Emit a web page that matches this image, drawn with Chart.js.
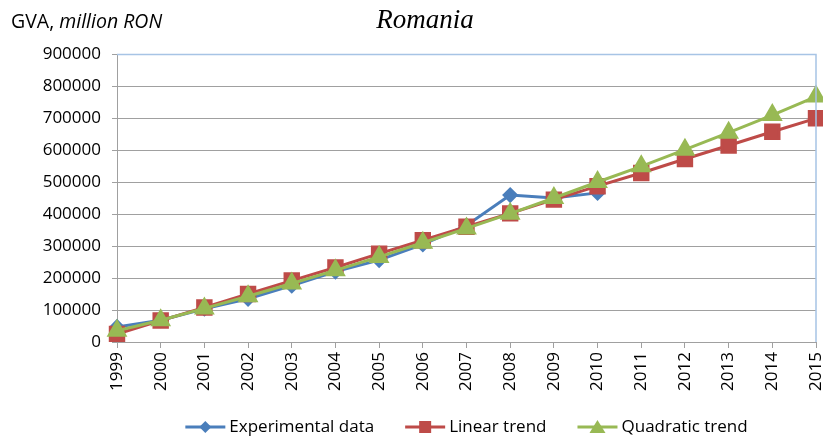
<!DOCTYPE html>
<html>
<head>
<meta charset="utf-8">
<script src="https://cdn.jsdelivr.net/npm/chart.js@4"></script>
<style>
  body { margin: 0; background: #fff; }
  #wrap { width: 823px; height: 437px; }
</style>
</head>
<body>
<div id="wrap"><canvas id="myChart"></canvas></div>
<script>
const years = ["1999", "2000", "2001", "2002", "2003", "2004", "2005", "2006", "2007", "2008", "2009", "2010", "2011", "2012", "2013", "2014", "2015"];
const experimental = [47000, 68000, 104000, 135000, 176000, 220000, 256000, 305000, 364000, 459000, 450000, 466000];
const linearTrend = [25000, 67000, 108000, 150000, 192000, 233000, 276000, 318000, 360000, 402000, 445000, 487000, 528000, 572000, 614000, 657000, 699000];
const quadraticTrend = [35000, 68000, 105000, 143000, 183000, 224000, 266000, 310000, 355000, 401000, 450000, 500000, 549000, 601000, 654000, 709000, 767000];
const yTicks = [0, 100000, 200000, 300000, 400000, 500000, 600000, 700000, 800000, 900000];

const blue = "#4a7ebb";
const red = "#be4b48";
const green = "#98b954";

const drawMarker = (g, shape, x, y) => {
  g.beginPath();
  if (shape == "diamond") {
    g.moveTo(x, y - 6); g.lineTo(x + 6, y); g.lineTo(x, y + 6); g.lineTo(x - 6, y);
  } else if (shape == "square") {
    g.rect(x - 6, y - 6, 12, 12);
  } else {
    g.moveTo(x, y - 7); g.lineTo(x + 8, y + 6); g.lineTo(x - 8, y + 6);
  }
  g.closePath();
  g.fill();
};

// title, axis caption, plot border and legend
const extras = {
  id: "extras",
  afterDraw(chart) {
    const ctx = chart.ctx;
    const a = chart.chartArea;
    ctx.save();
    ctx.strokeStyle = "#a7c4e5";
    ctx.lineWidth = 1.5;
    ctx.beginPath();
    ctx.moveTo(a.left, a.top + 0.5);
    ctx.lineTo(a.right, a.top + 0.5);
    ctx.lineTo(a.right, a.bottom);
    ctx.stroke();

    ctx.fillStyle = "#000";
    ctx.textBaseline = "alphabetic";
    ctx.font = "italic 27px 'Liberation Serif'";
    ctx.textAlign = "center";
    ctx.fillText("Romania", 425, 28);
    ctx.textAlign = "left";
    ctx.font = "19.5px 'Open Sans'";
    ctx.fillText("GVA, ", 11, 28);
    const w = ctx.measureText("GVA, ").width;
    ctx.font = "italic 19.5px 'Open Sans'";
    ctx.fillText("million RON", 11 + w, 28);

    // legend
    ctx.font = "17px 'Open Sans'";
    ctx.textBaseline = "middle";
    const iconW = 40, textGap = 4, itemGap = 31;
    const items = chart.data.datasets.map(ds => ({ ds, tw: ctx.measureText(ds.label).width }));
    let total = 0;
    items.forEach((it, i) => { total += iconW + textGap + it.tw + (i ? itemGap : 0); });
    let x = (a.left + a.right) / 2 - total / 2;
    const y = 427;
    items.forEach(it => {
      const c = it.ds.borderColor;
      ctx.strokeStyle = c; ctx.fillStyle = c; ctx.lineWidth = 3;
      ctx.beginPath(); ctx.moveTo(x, y); ctx.lineTo(x + iconW, y); ctx.stroke();
      drawMarker(ctx, it.ds.markerShape, x + iconW / 2, y);
      ctx.fillStyle = "#000";
      ctx.fillText(it.ds.label, x + iconW + textGap, y);
      x += iconW + textGap + it.tw + itemGap;
    });
    ctx.restore();
  }
};

const ctx = document.getElementById("myChart");
const chart = new Chart(ctx, {
  type: "line",
  data: {
    labels: years,
    datasets: [
      {
        label: "Experimental data",
        data: experimental,
        borderColor: blue,
        backgroundColor: blue,
        borderWidth: 3,
        pointStyle: "rectRot",
        pointRadius: 6,
        markerShape: "diamond",
        order: 3,
      },
      {
        label: "Linear trend",
        data: linearTrend,
        borderColor: red,
        backgroundColor: red,
        borderWidth: 3,
        pointStyle: "rect",
        pointRadius: 9.5,
        markerShape: "square",
        order: 2,
      },
      {
        label: "Quadratic trend",
        data: quadraticTrend,
        borderColor: green,
        backgroundColor: green,
        borderWidth: 3,
        pointStyle: "triangle",
        pointRadius: 9,
        markerShape: "triangle",
        order: 1,
      },
    ],
  },
  options: {
    responsive: true,
    maintainAspectRatio: false,
    animation: false,
    layout: { autoPadding: false, padding: { top: 54, right: 7, left: 0, bottom: 0 } },
    scales: {
      x: {
        offset: false,
        grid: { drawOnChartArea: false, drawTicks: true, tickLength: 6, color: "#a0a0a0" },
        border: { color: "#a0a0a0", width: 1 },
        ticks: {
          maxRotation: 90,
          minRotation: 90,
          autoSkip: false,
          color: "#000",
          font: { family: "'Open Sans'", size: 17 },
          padding: 4,
        },
        afterFit: (scale) => {
          scale.height = 95;
          scale.paddingRight = 0;
          scale.paddingLeft = 0;
        },
      },
      y: {
        min: 0,
        max: 900000,
        afterBuildTicks: (scale) => { scale.ticks = yTicks.map(v => ({ value: v })); },
        grid: { color: "#a0a0a0", tickLength: 5 },
        border: { color: "#a0a0a0", width: 1 },
        ticks: {
          color: "#000",
          font: { family: "'Open Sans'", size: 17 },
          padding: 11,
          callback: (v) => String(v),
        },
        afterFit: (scale) => {
          scale.width = 117;
          scale.paddingTop = 0;
          scale.paddingBottom = 0;
        },
      },
    },
    plugins: {
      legend: { display: false },
      tooltip: { enabled: false },
    },
  },
  plugins: [extras],
});
</script>
</body>
</html>
